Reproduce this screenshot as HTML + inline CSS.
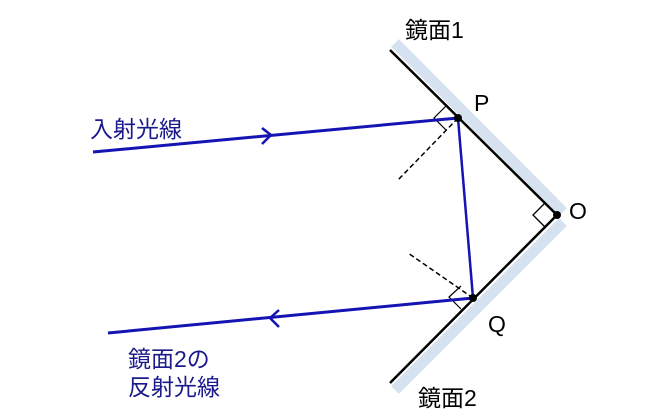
<!DOCTYPE html>
<html><head><meta charset="utf-8"><style>
html,body{margin:0;padding:0;background:#fff;}
svg{display:block;}
text{font-family:"Liberation Sans","Noto Sans CJK JP",sans-serif;}
</style></head><body>
<svg width="650" height="420" viewBox="0 0 650 420" xmlns="http://www.w3.org/2000/svg">
<line x1="395" y1="43" x2="563" y2="212" stroke="#d6e2ef" stroke-width="11"/>
<line x1="563" y1="222" x2="395" y2="390" stroke="#d6e2ef" stroke-width="11"/>
<line x1="390" y1="50" x2="557" y2="215" stroke="#000" stroke-width="2.5"/>
<line x1="557" y1="215" x2="390" y2="383" stroke="#000" stroke-width="2.5"/>
<polyline points="545,203 533,215 545,227" fill="none" stroke="#000" stroke-width="1.3"/>
<line x1="458" y1="118" x2="398" y2="180" stroke="#000" stroke-width="1.5" stroke-dasharray="5,3"/>
<line x1="473" y1="298" x2="408" y2="253" stroke="#000" stroke-width="1.5" stroke-dasharray="5,3"/>
<polyline points="446,106 434,118 446,130" fill="none" stroke="#000" stroke-width="1.2"/>
<polyline points="461,286 449,297 461,309" fill="none" stroke="#000" stroke-width="1.2"/>
<line x1="93" y1="152" x2="458" y2="118" stroke="#1414b4" stroke-width="3"/>
<polyline points="262,128 271,135 262,144" fill="none" stroke="#1414b4" stroke-width="2.5"/>
<line x1="458" y1="118" x2="473" y2="298" stroke="#1414b4" stroke-width="2.5"/>
<line x1="473" y1="298" x2="108" y2="333" stroke="#1414b4" stroke-width="3"/>
<polyline points="279,310 270,318 279,327" fill="none" stroke="#1414b4" stroke-width="2.5"/>
<circle cx="458" cy="118" r="4" fill="#000"/>
<circle cx="473" cy="298" r="4" fill="#000"/>
<circle cx="557" cy="215" r="4" fill="#000"/>
<text x="405" y="38" font-size="23" fill="#000">鏡面1</text>
<text x="418" y="406" font-size="23" fill="#000">鏡面2</text>
<text x="474" y="111" font-size="23" fill="#000">P</text>
<text x="569" y="219" font-size="23" fill="#000">O</text>
<text x="488" y="332" font-size="23" fill="#000">Q</text>
<text x="90" y="137" font-size="23" fill="#1a1a8c">入射光線</text>
<text x="128" y="367" font-size="23" fill="#1a1a8c">鏡面2の</text>
<text x="128" y="395" font-size="23" fill="#1a1a8c">反射光線</text>
</svg>
</body></html>
